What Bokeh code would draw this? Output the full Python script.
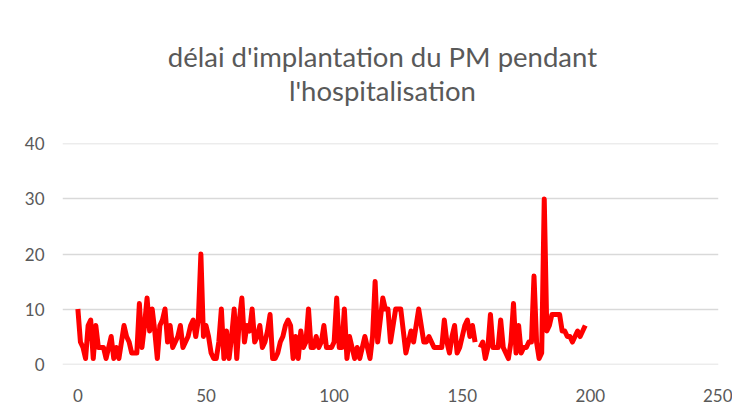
import numpy as np
from bokeh.plotting import figure
from bokeh.layouts import column
from bokeh.models import Range1d, FixedTicker
from bokeh.core.properties import value
from bokeh.embed import file_html
from bokeh.resources import INLINE

title_lines = ["délai d'implantation du PM pendant", "l'hospitalisation"]

# values (index 0..198), NaN = missing value (gap)
delai = [
    10, 4, 3, 1, 7, 8, 1, 7, 3, 3,
    3, 1, 3, 5, 1, 3, 1, 4, 7, 5,
    4, 2, 2, 2, 11, 3, 7, 12, 6, 10,
    6, 1, 7, 8, 10, 4, 7, 3, 4, 5,
    7, 3, 4, 5, 7, 8, 5, 8, 20, 5,
    7, 5, 2, 1, 1, 4, 10, 1, 6, 1,
    5, 10, 1, 8, 12, 4, 7, 6, 10, 4,
    5, 7, 3, 4, 6, 9, 1, 1, 2, 4,
    5, 7, 8, 7, 1, 5, 1, 6, 3, 4,
    10, 3, 3, 5, 3, 4, 7, 3, 3, 3,
    4, 12, 3, 3, 10, 1, 5, 3, 1, 3,
    1, 3, 5, 3, 1, 5, 15, 4, 8, 12,
    10, 10, 4, 7, 10, 10, 10, 6, 2, 4,
    6, 4, 7, 10, 7, 4, 4, 5, 4, 3,
    3, 3, 3, 8, 4, 2, 5, 7, 2, 3,
    5, 7, 8, 5, 7, 4, np.nan, 3, 4, 1,
    3, 9, 3, 3, 3, 8, 3, 2, 1, 4,
    11, 2, 7, 2, 3, 3, 4, 4, 16, 4,
    1, 2, 30, 6, 7, 9, 9, 9, 9, 6,
    6, 5, 5, 4, 5, 6, 5, 6, 7,
]
patients = list(range(len(delai)))

x_ticks = [0, 50, 100, 150, 200, 250]
y_ticks = [0, 10, 20, 30, 40]

W = 732
TH = 126   # title band height
MH = 278   # main chart height

# --- title band (pixel-like coordinates, y downwards) ---
pt = figure(width=W, height=TH, output_backend="svg", toolbar_location=None,
            x_range=Range1d(0, W), y_range=Range1d(TH, 0),
            x_axis_type=None, y_axis_type=None, min_border=0,
            min_border_left=0, min_border_right=0,
            min_border_top=0, min_border_bottom=0)
pt.outline_line_color = None
pt.background_fill_color = "white"
pt.border_fill_color = "white"
pt.text(x=[357, 357], y=[56, 90], text=title_lines,
        text_align="center", text_baseline="alphabetic",
        text_font=value("Lato"), text_font_size="27.5px", text_color="#595959")

# --- main chart ---
p = figure(width=W, height=MH, output_backend="svg", toolbar_location=None,
           x_range=Range1d(-6, 250), y_range=Range1d(-0.08, 40.08),
           min_border_left=62, min_border_right=14, min_border_top=17,
           min_border_bottom=38)
p.outline_line_color = None
p.background_fill_color = "white"
p.border_fill_color = "white"

p.line(patients, delai, line_color="#FF0000", line_width=5, line_join="round")

for ax in (p.xaxis[0], p.yaxis[0]):
    ax.axis_line_color = None
    ax.major_tick_line_color = None
    ax.minor_tick_line_color = None
    ax.major_label_text_font = "Lato"
    ax.major_label_text_font_size = "17px"
    ax.major_label_text_color = "#595959"

p.xaxis[0].ticker = FixedTicker(ticks=x_ticks)
p.yaxis[0].ticker = FixedTicker(ticks=y_ticks)
p.xaxis[0].major_label_standoff = 18
p.yaxis[0].major_label_standoff = 12

p.xgrid.grid_line_color = None
p.ygrid.ticker = FixedTicker(ticks=y_ticks)
p.ygrid.grid_line_color = "#D9D9D9"
p.ygrid.grid_line_width = 1.3

layout = column(pt, p, spacing=0)
open("out.html", "w").write(file_html(layout, INLINE))
